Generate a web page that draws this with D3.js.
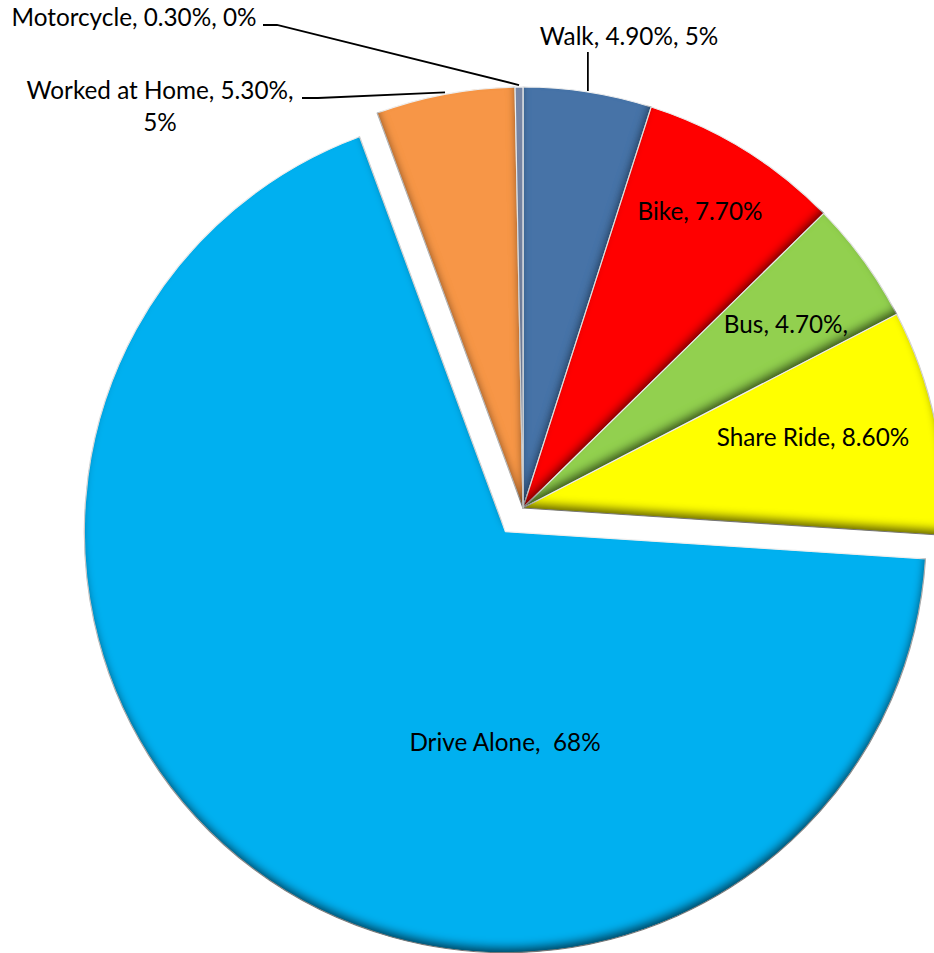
<!DOCTYPE html>
<html>
<head>
<meta charset="utf-8">
<script src="https://cdn.jsdelivr.net/npm/d3@7"></script>
<style>
  html, body { margin: 0; padding: 0; background: #fff; }
  svg { display: block; }
  text { font-family: Lato, "Open Sans", sans-serif; fill: #000; white-space: pre; }
</style>
</head>
<body>
<svg id="chart" width="934" height="953"></svg>
<script>
// Commute mode share, clockwise from 12 o'clock
const modes   = ["Walk", "Bike", "Bus", "Share Ride", "Drive Alone", "Worked at Home", "Motorcycle"];
const shares  = [4.9, 7.7, 4.7, 8.6, 68, 5.3, 0.3];
const labels  = ["Walk, 4.90%, 5%", "Bike, 7.70%", "Bus, 4.70%,", "Share Ride, 8.60%",
                 "Drive Alone,  68%", "Worked at Home, 5.30%,\n5%", "Motorcycle, 0.30%, 0%"];
const colors  = ["#4673A7", "#FF0000", "#92D050", "#FFFF00", "#00B0F0", "#F79646", "#7888A8"];

// Layout
const W = 934, H = 953;
const cx = 523, cy = 508, R = 421;
const explode = { "Drive Alone": 29.5 };
const fontSize = 24.3;

// Text placement: x, baseline y, anchor, leader style
const labelLayout = {
  "Walk":           { x: 629, y: 45,  anchor: "middle", leader: "vertical" },
  "Bike":           { x: 700, y: 220, anchor: "middle" },
  "Bus":            { x: 786, y: 333, anchor: "middle" },
  "Share Ride":     { x: 813, y: 446, anchor: "middle" },
  "Drive Alone":    { x: 505, y: 751, anchor: "middle" },
  "Worked at Home": { x: 160, y: 99,  anchor: "middle", leader: "elbow", lineGap: 32, hook: [302, 318] },
  "Motorcycle":     { x: 134, y: 26,  anchor: "middle", leader: "elbow", hook: [263, 277] }
};

const svg = d3.select("#chart");

// Inner shadow, biased toward the lower edges of every slice
const defs = svg.append("defs");
const f = defs.append("filter").attr("id", "inset")
  .attr("x", "-10%").attr("y", "-10%").attr("width", "120%").attr("height", "120%");
f.append("feComponentTransfer").attr("in", "SourceAlpha").attr("result", "inv")
  .append("feFuncA").attr("type", "table").attr("tableValues", "1 0");
f.append("feOffset").attr("in", "inv").attr("dx", -1.5).attr("dy", -7).attr("result", "off");
f.append("feGaussianBlur").attr("in", "off").attr("stdDeviation", 4.5).attr("result", "blur");
f.append("feFlood").attr("flood-color", "#000").attr("flood-opacity", 0.85).attr("result", "col");
f.append("feComposite").attr("in", "col").attr("in2", "blur").attr("operator", "in").attr("result", "sh");
f.append("feComposite").attr("in", "sh").attr("in2", "SourceAlpha").attr("operator", "in").attr("result", "clip");
const fm = f.append("feMerge");
fm.append("feMergeNode").attr("in", "SourceGraphic");
fm.append("feMergeNode").attr("in", "clip");

const data = modes.map((m, i) => ({ mode: m, value: shares[i], label: labels[i], color: colors[i] }));

const pie = d3.pie().value(d => d.value).sort(null);
const arcs = pie(data);
const arc = d3.arc().innerRadius(0).outerRadius(R);

const mid = a => (a.startAngle + a.endAngle) / 2;
const offsetOf = a => {
  const e = explode[a.data.mode] || 0;
  return [Math.sin(mid(a)) * e, -Math.cos(mid(a)) * e];
};

const g = svg.append("g").attr("transform", `translate(${cx},${cy})`);

g.selectAll("path.slice")
  .data(arcs)
  .join("path")
  .attr("class", "slice")
  .attr("transform", a => { const o = offsetOf(a); return `translate(${o[0]},${o[1]})`; })
  .attr("d", arc)
  .attr("fill", a => a.data.color)
  .attr("stroke", "#f2f2f2")
  .attr("stroke-width", 1.2)
  .attr("stroke-linejoin", "round")
  .attr("filter", "url(#inset)");

// Leader lines run to the outer rim at each slice's mid angle
const rimPoint = a => {
  const o = offsetOf(a);
  return [cx + o[0] + Math.sin(mid(a)) * R, cy + o[1] - Math.cos(mid(a)) * R];
};

const lg = svg.append("g").attr("fill", "none").attr("stroke", "#000").attr("stroke-width", 1.8);
arcs.forEach(a => {
  const L = labelLayout[a.data.mode];
  if (!L.leader) return;
  const p = rimPoint(a);
  if (L.leader === "vertical") {
    lg.append("path").attr("d", d3.line()([[p[0], L.y + 7], [p[0], p[1] - 1]]));
  } else {
    const hy = L.y - 1;
    lg.append("path").attr("d", d3.line()([[L.hook[0], hy], [L.hook[1], hy], [p[0], p[1] - 2]]));
  }
});

// Labels
const tg = svg.append("g").style("font-size", fontSize + "px");
arcs.forEach(a => {
  const L = labelLayout[a.data.mode];
  const lines = a.data.label.split("\n");
  const t = tg.append("text").attr("text-anchor", L.anchor);
  lines.forEach((s, i) => {
    t.append("tspan").attr("x", L.x).attr("y", L.y + i * (L.lineGap || 0)).text(s);
  });
});
</script>
</body>
</html>
